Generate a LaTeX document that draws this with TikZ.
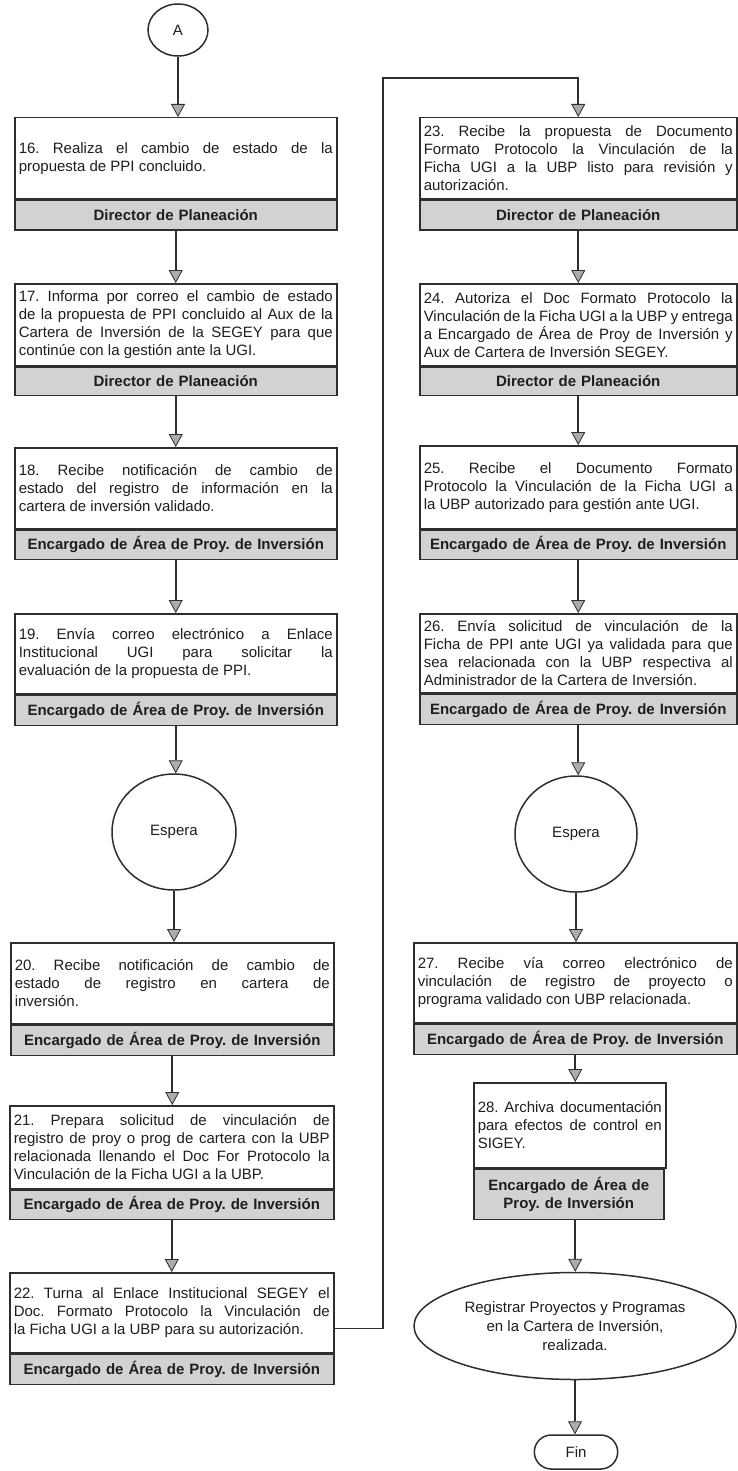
\documentclass[tikz,border=0pt]{standalone}
\usepackage{fontspec}
\setmainfont{Liberation Sans}
\usetikzlibrary{arrows.meta,shapes.geometric,shapes.misc}
\definecolor{linec}{HTML}{2E2E2E}
\definecolor{txtc}{HTML}{1E1E1E}
\definecolor{bandc}{HTML}{D2D2D2}
\tikzset{
  body/.style={draw=linec, line width=1.5pt, fill=white, anchor=north west, inner xsep=4pt, inner ysep=2pt, align=justify, text=txtc, font=\fontsize{15}{18}\selectfont},
  band/.style={draw=linec, line width=1.5pt, fill=bandc, anchor=north west, inner sep=1pt, align=center, text=txtc, font=\fontsize{15}{18}\selectfont\bfseries},
  arr/.style={draw=linec, line width=1.7pt, -{Triangle[width=14pt,length=13pt,fill=gray!65,line width=0.8pt]}},
  oval/.style={draw=linec, line width=1.5pt, fill=white, ellipse, align=center, text=txtc, font=\fontsize{15}{19}\selectfont}
}
% name, x, y, textwidth, width, body height, band height, text, band
\newcommand\pstep[9]{%
  \node[body, text width=#4pt, minimum width=#5pt, minimum height=#6pt] (b#1) at (#2,#3) {#8};
  \node[band, text width=#5pt-2pt, minimum width=#5pt, minimum height=#7pt] (r#1) at (b#1.south west) {#9};}
\frenchspacing
\begin{document}
\begin{tikzpicture}[x=1pt,y=-1pt]
\fill[white] (0,0) rectangle (738,1471);
\useasboundingbox (0,0) rectangle (738,1471);

\node[oval, minimum width=60pt, minimum height=52pt] (A) at (178,30) {A};

% left column
\pstep{16}{14}{117}{314}{322}{81}{30}{16. Realiza el cambio de estado de la \linebreak propuesta de PPI concluido.}{Director de Planeación}
\pstep{17}{14}{283}{314}{322}{82}{28}{17. Informa por correo el cambio de estado \linebreak de la propuesta de PPI concluido al Aux de la \linebreak Cartera de Inversión de la SEGEY para que \linebreak continúe con la gestión ante la UGI.}{Director de Planeación}
\pstep{18}{14}{447}{314}{322}{81}{29}{18. Recibe notificación de cambio de \linebreak estado del registro de información en la \linebreak cartera de inversión validado.}{Encargado de Área de Proy. de Inversión}
\pstep{19}{14}{613}{314}{322}{80}{30}{19. Envía correo electrónico a Enlace \linebreak Institucional UGI para solicitar la \linebreak evaluación de la propuesta de PPI.}{Encargado de Área de Proy. de Inversión}

\node[oval, minimum width=124pt, minimum height=116pt] (espL) at (174,832) {Espera};

\pstep{20}{10}{942}{315}{323}{81}{30}{20. Recibe notificación de cambio de \linebreak estado de registro en cartera de \linebreak inversión.}{Encargado de Área de Proy. de Inversión}
\pstep{21}{9}{1105}{316}{324}{83}{29}{21. Prepara solicitud de vinculación de \linebreak registro de proy o prog de cartera con la UBP \linebreak relacionada llenando el Doc For Protocolo la \linebreak Vinculación de la Ficha UGI a la UBP.}{Encargado de Área de Proy. de Inversión}
\pstep{22}{9}{1272}{316}{324}{80}{30}{22. Turna al Enlace Institucional SEGEY el \linebreak Doc. Formato Protocolo la Vinculación de \linebreak la Ficha UGI a la UBP para su autorización.}{Encargado de Área de Proy. de Inversión}

% right column
\pstep{23}{419}{117}{309}{317}{81}{30}{\fontsize{15}{19.5}\selectfont 23. Recibe la propuesta de Documento \linebreak Formato Protocolo la Vinculación de la \linebreak Ficha UGI a la UBP listo para revisión y \linebreak autorización.}{Director de Planeación}
\pstep{24}{419}{283}{309}{317}{82}{28}{24. Autoriza el Doc Formato Protocolo la \linebreak Vinculación de la Ficha UGI a la UBP y entrega \linebreak a Encargado de Área de Proy de Inversión y \linebreak Aux de Cartera de Inversión SEGEY.}{Director de Planeación}
\pstep{25}{419}{445}{309}{317}{83}{29}{25. Recibe el Documento Formato \linebreak Protocolo la Vinculación de la Ficha UGI a \linebreak la UBP autorizado para gestión ante UGI.}{Encargado de Área de Proy. de Inversión}
\pstep{26}{419}{613}{309}{317}{79}{30}{26. Envía solicitud de vinculación de la \linebreak Ficha de PPI ante UGI ya validada para que \linebreak sea relacionada con la UBP respectiva al \linebreak Administrador de la Cartera de Inversión.}{Encargado de Área de Proy. de Inversión}

\node[oval, minimum width=122pt, minimum height=116pt] (espR) at (576,834) {Espera};

\pstep{27}{413}{942}{315}{323}{80}{30}{27. Recibe vía correo electrónico de \linebreak vinculación de registro de proyecto o \linebreak programa validado con UBP relacionada.}{Encargado de Área de Proy. de Inversión}
\pstep{28}{473}{1082}{184}{190}{85}{50}{28. Archiva documentación \linebreak para efectos de control en \linebreak SIGEY.}{Encargado de Área de\\Proy. de Inversión}

\node[oval, minimum width=322pt, minimum height=107pt] (ell) at (575,1326) {Registrar Proyectos y Programas\\en la Cartera de Inversión,\\realizada.};
\node[draw=linec, line width=1.5pt, rounded rectangle, minimum width=90pt, minimum height=34pt, text=txtc, font=\fontsize{15}{18}\selectfont] (fin) at (576,1452) {Fin};

% connectors left
\draw[arr] (A.south) -- (A.south |- b16.north);
\draw[arr] (r16.south) -- (r16.south |- b17.north);
\draw[arr] (r17.south) -- (r17.south |- b18.north);
\draw[arr] (r18.south) -- (r18.south |- b19.north);
\draw[arr] (r19.south) -- (r19.south |- espL.north);
\draw[arr] (espL.south) -- (espL.south |- b20.north);
\draw[arr] (r20.south) -- (r20.south |- b21.north);
\draw[arr] (r21.south) -- (r21.south |- b22.north);
\coordinate (c1) at (383,78);
\draw[arr] ([yshift=25pt]b22.south east) -| (c1) -| (b23.north);

% connectors right
\draw[arr] (r23.south) -- (r23.south |- b24.north);
\draw[arr] (r24.south) -- (r24.south |- b25.north);
\draw[arr] (r25.south) -- (r25.south |- b26.north);
\draw[arr] (r26.south) -- (r26.south |- espR.north);
\draw[arr] (espR.south) -- (espR.south |- b27.north);
\draw[arr] (r27.south) -- (r27.south |- b28.north);
\draw[arr] (r27.south |- r28.south) -- (r27.south |- ell.north);
\draw[arr] (ell.south) -- (ell.south |- fin.north);
\end{tikzpicture}
\end{document}
